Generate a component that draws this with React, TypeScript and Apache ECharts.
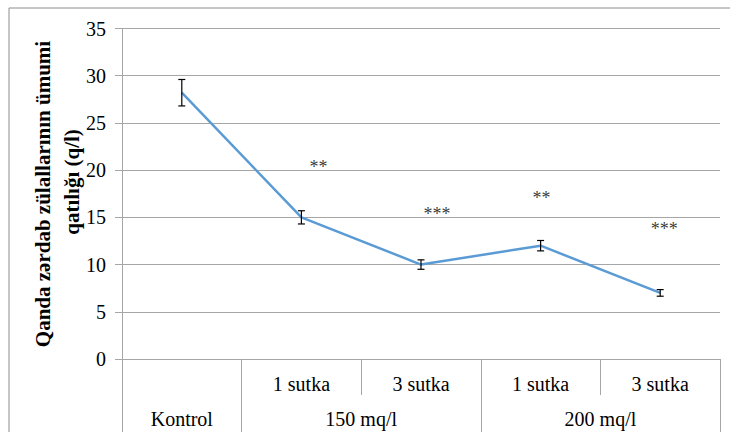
import React, { useEffect, useRef } from "react";
import * as echarts from "echarts";

// ---- data ----
const dayLabels = ["", "1 sutka", "3 sutka", "1 sutka", "3 sutka"];
const groupLabels = ["Kontrol", "150 mq/l", "200 mq/l"];
const groupSpans = [1, 2, 2];
const values = [28.2, 15.0, 10.0, 12.0, 7.0];
const errors = [1.4, 0.7, 0.5, 0.55, 0.35];
const starLabels = ["**", "***", "**", "***"];
const starCategory = [1, 2, 3, 4];
const starValues = [20.3, 15.4, 17.1, 13.8];
const yTicks = { min: 0, max: 35, interval: 5 };
const yTitle1 = "Qanda zərdab zülallarının ümumi";
const yTitle2 = "qatılığı (q/l)";

// ---- style ----
const starOffsets = [17, 16, 1, 4];
const SERIF = "Liberation Serif";
const GRID_COLOR = "#a6a6a6";

export default function App() {
  const ref = useRef<HTMLDivElement>(null);
  useEffect(() => {
    if (!ref.current) return;
    const chart = echarts.init(ref.current, undefined, { renderer: "svg" });

    const bounds: number[] = [0];
    const centers: number[] = [];
    let acc = 0;
    groupSpans.forEach((s) => {
      centers.push(acc + s / 2);
      acc += s;
      bounds.push(acc);
    });

    const cats = values.map((_, i) => String(i));
    const errData = values.map((v, i) => [i, v - errors[i], v + errors[i]]);
    const starData = starLabels.map((l, i) => ({
      value: [starCategory[i], starValues[i]],
      name: l,
      label: { offset: [starOffsets[i], 0] },
    }));

    chart.setOption({
      animation: false,
      backgroundColor: "#ffffff",
      textStyle: { fontFamily: SERIF },
      grid: { left: 122, right: 10, top: 28.5, bottom: 73, containLabel: false },
      xAxis: [
        {
          type: "category",
          data: cats,
          boundaryGap: true,
          axisLine: { show: true, lineStyle: { color: GRID_COLOR, width: 1 } },
          axisTick: { show: true, interval: 0, length: 36, lineStyle: { color: GRID_COLOR } },
          axisLabel: {
            interval: 0,
            margin: 15,
            fontFamily: SERIF,
            fontSize: 20,
            color: "#000",
            formatter: (_v: string, idx: number) => dayLabels[idx],
          },
          splitLine: { show: false },
        },
        {
          type: "value",
          position: "bottom",
          min: 0,
          max: values.length,
          axisLine: { show: false },
          splitLine: { show: false },
          axisTick: {
            show: true,
            customValues: bounds,
            length: 90,
            lineStyle: { color: GRID_COLOR },
          },
          axisLabel: {
            show: true,
            customValues: centers,
            margin: 50,
            fontFamily: SERIF,
            fontSize: 20,
            color: "#000",
            formatter: (v: number) => {
              const k = centers.findIndex((c) => Math.abs(c - v) < 1e-6);
              return k >= 0 ? groupLabels[k] : "";
            },
          },
        },
      ],
      yAxis: {
        type: "value",
        min: yTicks.min,
        max: yTicks.max,
        interval: yTicks.interval,
        axisLine: { show: true, lineStyle: { color: GRID_COLOR } },
        axisTick: { show: true, length: 7, lineStyle: { color: GRID_COLOR } },
        axisLabel: { margin: 16, fontFamily: SERIF, fontSize: 20, color: "#000" },
        splitLine: { show: true, lineStyle: { color: GRID_COLOR, width: 1 } },
      },
      graphic: [
        {
          type: "rect",
          shape: { x: 9, y: 8, width: 760, height: 460 },
          style: { fill: "none", stroke: "#8c8c8c", lineWidth: 1 },
          silent: true,
        },
        {
          type: "text",
          x: 43,
          y: 194,
          rotation: Math.PI / 2,
          style: {
            text: yTitle1,
            fontFamily: SERIF,
            fontSize: 21,
            fontWeight: "bold",
            fill: "#000",
            align: "center",
            verticalAlign: "middle",
          },
        },
        {
          type: "text",
          x: 72,
          y: 182,
          rotation: Math.PI / 2,
          style: {
            text: yTitle2,
            fontFamily: SERIF,
            fontSize: 21,
            fontWeight: "bold",
            fill: "#000",
            align: "center",
            verticalAlign: "middle",
          },
        },
      ],
      series: [
        {
          type: "line",
          data: values,
          showSymbol: false,
          symbol: "none",
          lineStyle: { color: "#5b9bd5", width: 2.5 },
          z: 2,
        },
        {
          type: "custom",
          data: errData,
          encode: { x: 0, y: [1, 2] },
          z: 3,
          renderItem: (_p: any, api: any) => {
            const x = api.value(0);
            const top = api.coord([x, api.value(2)]);
            const bot = api.coord([x, api.value(1)]);
            const w = 3.5;
            const st = { stroke: "#000", lineWidth: 1.2 };
            return {
              type: "group",
              children: [
                { type: "line", shape: { x1: top[0], y1: top[1], x2: bot[0], y2: bot[1] }, style: st },
                { type: "line", shape: { x1: top[0] - w, y1: top[1], x2: top[0] + w, y2: top[1] }, style: st },
                { type: "line", shape: { x1: bot[0] - w, y1: bot[1], x2: bot[0] + w, y2: bot[1] }, style: st },
              ],
            };
          },
        },
        {
          type: "scatter",
          data: starData,
          symbolSize: 0,
          z: 4,
          label: {
            show: true,
            position: "inside",
            formatter: (p: any) => p.name,
            fontFamily: SERIF,
            fontSize: 18,
            color: "#000",
          },
        },
      ],
    });
    return () => chart.dispose();
  }, []);
  return (
    <div
      ref={ref}
      style={{ position: "fixed", left: 0, top: 0, width: 730, height: 432, background: "#fff" }}
    />
  );
}
